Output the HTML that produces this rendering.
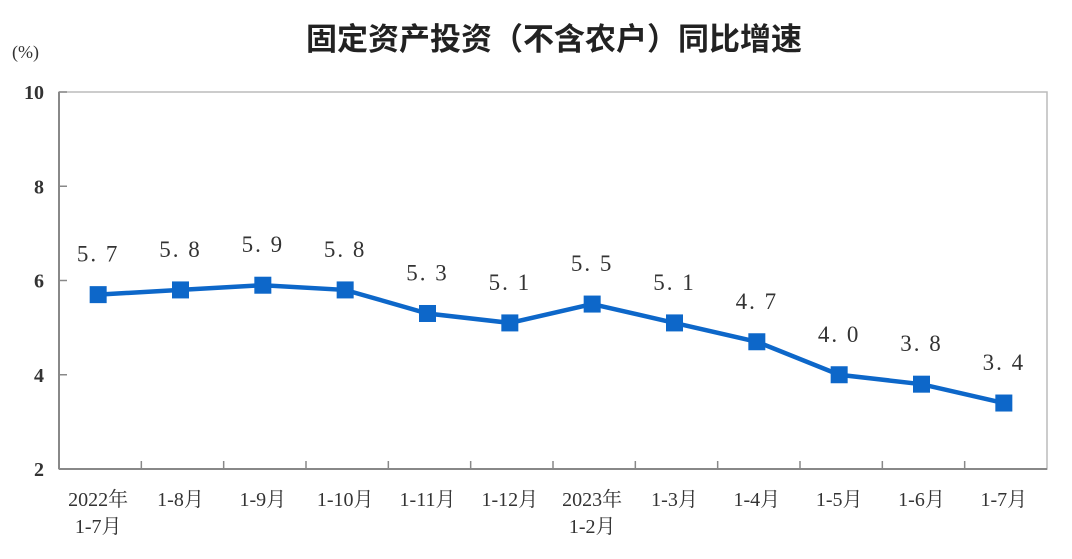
<!DOCTYPE html>
<html><head><meta charset="utf-8"><style>
body{margin:0;background:#fff;}
svg text{font-family:"Liberation Serif","Noto Serif CJK SC",serif;}
</style></head><body>
<svg id="c" width="1072" height="554">
<text x="554" y="50" text-anchor="middle" font-size="31" font-weight="bold" fill="#222" style="font-family:'Liberation Sans','Noto Sans CJK SC',sans-serif">固定资产投资（不含农户）同比增速</text>
<text x="12" y="58" font-size="18" fill="#333">(%)</text>
<g id="g"></g>
</svg>
<script>
const categories=[["2022年","1-7月"],["1-8月"],["1-9月"],["1-10月"],["1-11月"],["1-12月"],["2023年","1-2月"],["1-3月"],["1-4月"],["1-5月"],["1-6月"],["1-7月"]];
const values=[5.7,5.8,5.9,5.8,5.3,5.1,5.5,5.1,4.7,4.0,3.8,3.4];
const yTicks=[2,4,6,8,10];
const L=59,R=1047,T=92,B=469,yMin=2,yMax=10;
const bw=(R-L)/categories.length;
const xs=i=>L-2+bw*(i+0.5);
const ys=v=>B-(v-yMin)/(yMax-yMin)*(B-T);
const g=document.getElementById('g');const NS='http://www.w3.org/2000/svg';
function mk(t,a,txt){const e=document.createElementNS(NS,t);for(const k in a)e.setAttribute(k,a[k]);if(txt!=null)e.textContent=txt;g.appendChild(e);return e;}
let e=mk('rect',{x:L,y:T,width:R-L,height:B-T,fill:'none',stroke:'#bbb','stroke-width':1.5});


e=mk('line',{x1:L,y1:T,x2:L,y2:B,stroke:'#888','stroke-width':2});


e=mk('line',{x1:L,y1:B,x2:R,y2:B,stroke:'#888','stroke-width':2});


yTicks.forEach(v=>{
 e=mk('line',{x1:L,y1:ys(v),x2:L+8,y2:ys(v),stroke:'#888','stroke-width':1.5});
 
 
 e=mk('text',{x:L-15,y:ys(v)+7,'text-anchor':'end','font-size':20,'font-weight':'bold',fill:'#333'},v);
 
 
});
categories.forEach((c,i)=>{
 if(i>0){e=mk('line',{x1:L+bw*i,y1:B,x2:L+bw*i,y2:B-8,stroke:'#888','stroke-width':1.5});
 
 }
 c.forEach((s,j)=>{
  e=mk('text',{x:xs(i),y:B+37+j*27,'text-anchor':'middle','font-size':20,fill:'#333'},s);
  
  
 });
});
e=mk('polyline',{points:values.map((v,i)=>xs(i)+','+ys(v)).join(' '),fill:'none',stroke:'#0d67c9','stroke-width':4.5});


values.forEach((v,i)=>{
 e=mk('rect',{x:xs(i)-8.5,y:ys(v)-8.5,width:17,height:17,fill:'#0d67c9'});
 
 
 e=mk('text',{x:xs(i),y:ys(v)-33,'text-anchor':'middle','font-size':23,fill:'#333','letter-spacing':'2'},v.toFixed(1).replace('.','. '));
 
 
});
</script>
</body></html>
